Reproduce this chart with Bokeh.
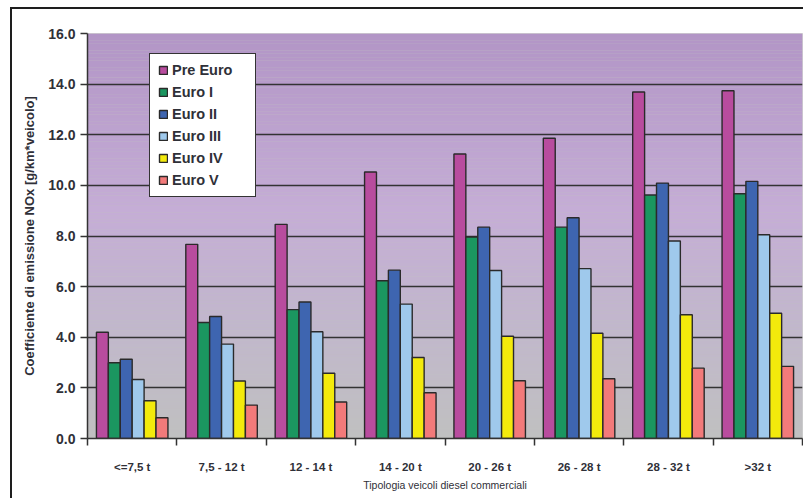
import numpy as np
from bokeh.plotting import figure
from bokeh.models import FixedTicker, Legend, LegendItem, ColumnDataSource
from bokeh.embed import file_html
from bokeh.resources import INLINE

# NOx emission factors [g/km*veicolo] by weight class and emission standard
categories = ["<=7,5 t", "7,5 - 12 t", "12 - 14 t", "14 - 20 t",
              "20 - 26 t", "26 - 28 t", "28 - 32 t", ">32 t"]
series = ["Pre Euro", "Euro I", "Euro II", "Euro III", "Euro IV", "Euro V"]
pre_euro = [4.20, 7.67, 8.46, 10.53, 11.24, 11.86, 13.69, 13.74]
euro_1 = [2.99, 4.58, 5.09, 6.23, 7.96, 8.35, 9.62, 9.67]
euro_2 = [3.13, 4.82, 5.39, 6.65, 8.35, 8.72, 10.09, 10.16]
euro_3 = [2.33, 3.73, 4.22, 5.31, 6.64, 6.71, 7.80, 8.05]
euro_4 = [1.49, 2.27, 2.58, 3.20, 4.04, 4.16, 4.89, 4.95]
euro_5 = [0.82, 1.32, 1.44, 1.81, 2.28, 2.36, 2.78, 2.85]
y_ticks = [0, 2, 4, 6, 8, 10, 12, 14, 16]

values = [pre_euro, euro_1, euro_2, euro_3, euro_4, euro_5]
colors = ["#b84c9e", "#1b9660", "#3e65b0", "#9fc9ec", "#f3ea0c", "#f27a7a"]

FONT = "Liberation Sans"
TEXT = "#2f3038"

p = figure(width=793, height=491, output_backend="svg", toolbar_location=None,
           x_range=(0, len(categories)), y_range=(0, 16),
           min_border_left=75, min_border_right=3, min_border_top=24,
           min_border_bottom=62)
p.margin = (7, 0, 0, 10)
p.styles = {"border-left": "2px solid #1e1e1e", "border-top": "2px solid #1e1e1e"}
p.background_fill_color = "#c0c0c0"
p.border_fill_color = "white"
p.outline_line_color = "#cfcfcf"
p.outline_line_width = 1

# vertical purple-to-grey gradient behind the bars
edges = np.linspace(0, 16, 121)
stops_y = [0, 4, 9, 16]
stops_rgb = np.array([[192, 192, 192], [193, 184, 203], [197, 173, 214], [178, 149, 198]])
mids = (edges[:-1] + edges[1:]) / 2
band_colors = []
for m in mids:
    r, g, b = (int(round(np.interp(m, stops_y, stops_rgb[:, k]))) for k in range(3))
    band_colors.append("#%02x%02x%02x" % (r, g, b))
p.quad(left=0, right=len(categories), bottom=edges[:-1], top=edges[1:],
       fill_color=band_colors, line_color=None, level="underlay")

# grouped bars
n = len(series)
group_w = 0.8
bar_w = group_w / n
centers = np.arange(len(categories)) + 0.5
items = []
for i, (name, vals, col) in enumerate(zip(series, values, colors)):
    src = ColumnDataSource(dict(x=centers + (i - (n - 1) / 2) * bar_w, top=vals))
    r = p.vbar(x="x", top="top", width=bar_w, bottom=0, source=src,
               fill_color=col, line_color="#2a2a2a", line_width=1.4)
    items.append(LegendItem(label=name, renderers=[r]))

# axes
p.yaxis.ticker = FixedTicker(ticks=y_ticks)
p.yaxis.major_label_overrides = {t: "%.1f" % t for t in y_ticks}
p.yaxis.major_tick_out = 7
p.yaxis.major_tick_in = 0
p.yaxis.minor_tick_out = 0
p.yaxis.minor_tick_in = 0
p.yaxis.axis_line_color = "#333333"
p.yaxis.axis_line_width = 1.5
p.yaxis.major_tick_line_color = "#333333"
p.yaxis.major_tick_line_width = 1.5
p.yaxis.major_label_text_font = FONT
p.yaxis.major_label_text_font_style = "bold"
p.yaxis.major_label_text_font_size = "14px"
p.yaxis.major_label_text_color = TEXT
p.yaxis.major_label_standoff = 5
p.yaxis.axis_label = "Coefficiente di emissione NOx [g/km*veicolo]"
p.yaxis.axis_label_text_font = FONT
p.yaxis.axis_label_text_font_style = "bold"
p.yaxis.axis_label_text_font_size = "13px"
p.yaxis.axis_label_text_color = TEXT
p.yaxis.axis_label_standoff = 8

p.xaxis.ticker = FixedTicker(ticks=list(centers), minor_ticks=list(range(len(categories) + 1)))
p.xaxis.major_label_overrides = {float(c): lab for c, lab in zip(centers, categories)}
p.xaxis.major_tick_out = 0
p.xaxis.major_tick_in = 0
p.xaxis.minor_tick_out = 7
p.xaxis.minor_tick_in = 0
p.xaxis.minor_tick_line_color = "#333333"
p.xaxis.minor_tick_line_width = 1.5
p.xaxis.axis_line_color = "#333333"
p.xaxis.axis_line_width = 1.5
p.xaxis.major_label_text_font = FONT
p.xaxis.major_label_text_font_style = "bold"
p.xaxis.major_label_text_font_size = "11.5px"
p.xaxis.major_label_text_color = TEXT
p.xaxis.major_label_standoff = 15
p.xaxis.axis_label = "Tipologia veicoli diesel commerciali"
p.xaxis.axis_label_text_font = FONT
p.xaxis.axis_label_text_font_style = "normal"
p.xaxis.axis_label_text_font_size = "10.5px"
p.xaxis.axis_label_text_color = TEXT
p.xaxis.axis_label_standoff = 3

p.xgrid.grid_line_color = None
p.ygrid.ticker = FixedTicker(ticks=y_ticks[1:-1])
p.ygrid.grid_line_color = "#333333"
p.ygrid.grid_line_width = 1.5
p.ygrid.level = "underlay"

legend = Legend(items=items, location=(62, 241))
legend.background_fill_color = "white"
legend.background_fill_alpha = 1
legend.border_line_color = "#333333"
legend.border_line_alpha = 1
legend.border_line_width = 1.5
legend.padding = 8
legend.margin = 0
legend.spacing = 6
legend.glyph_width = 10
legend.glyph_height = 10
legend.label_height = 16
legend.label_width = 75
legend.label_standoff = 4
legend.label_text_font = FONT
legend.label_text_font_style = "bold"
legend.label_text_font_size = "14.5px"
legend.label_text_color = TEXT
p.add_layout(legend, "center")

open("out.html", "w").write(file_html(p, INLINE))
